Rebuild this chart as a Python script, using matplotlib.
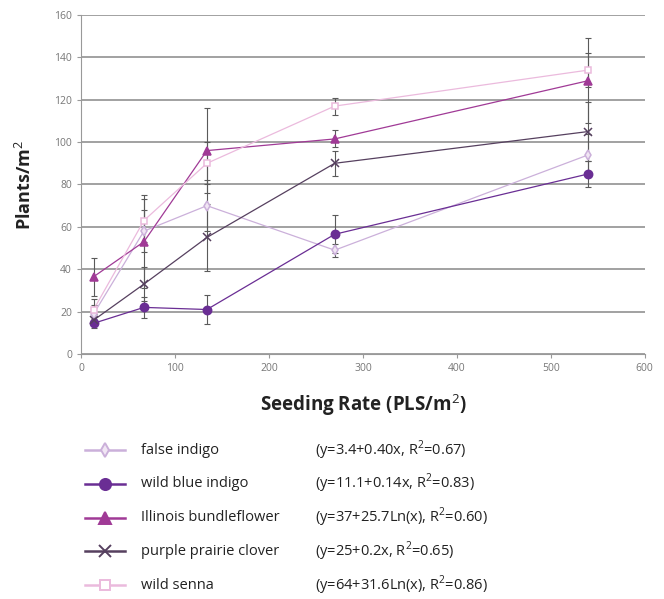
import numpy as np
import matplotlib
matplotlib.use("Agg")
import matplotlib.pyplot as plt
from matplotlib.lines import Line2D

plt.rcParams["font.family"] = ["Open Sans", "DejaVu Sans"]
plt.rcParams["mathtext.fontset"] = "custom"
plt.rcParams["mathtext.rm"] = "Open Sans"
plt.rcParams["mathtext.bf"] = "Open Sans:bold"

# seeding rates (PLS/m2)
rates = [13.5, 67, 134, 270, 540]

species = ["false indigo", "wild blue indigo", "Illinois bundleflower",
           "purple prairie clover", "wild senna"]
equations = ["(y=3.4+0.40x, R$^{2}$=0.67)", "(y=11.1+0.14x, R$^{2}$=0.83)",
             "(y=37+25.7Ln(x), R$^{2}$=0.60)", "(y=25+0.2x, R$^{2}$=0.65)",
             "(y=64+31.6Ln(x), R$^{2}$=0.86)"]

false_indigo = [19, 58, 70, 49, 94]
wild_blue_indigo = [14.5, 22, 21, 56.5, 85]
illinois = [36.5, 53, 96, 101.5, 129]
prairie_clover = [16, 33, 55, 90, 105]
wild_senna = [21, 63, 90, 117, 134]

false_indigo_err = [4, 10, 12, 3, 10]
wild_blue_indigo_err = [2, 5, 7, 9, 6]
illinois_err = [9, 22, 20, 4, 20]
prairie_clover_err = [3, 8, 16, 6, 14]
wild_senna_err = [5, 10, 10, 4, 8]

series = [false_indigo, wild_blue_indigo, illinois, prairie_clover, wild_senna]
errors = [false_indigo_err, wild_blue_indigo_err, illinois_err,
          prairie_clover_err, wild_senna_err]
colors = ["#cbb0da", "#6a2e94", "#a03a96", "#56405f", "#ebbadd"]
markers = ["d", "o", "^", "x", "s"]
mfaces = ["#f1e6f4", "#6a2e94", "#a03a96", "#56405f", "#ffffff"]
msizes = [5, 6, 6, 6, 5]

fig = plt.figure(figsize=(6.64, 5.99), dpi=100)
ax = fig.add_axes([0.122, 0.409, 0.849, 0.566])

for ys, es, c, m, mf, ms in zip(series, errors, colors, markers, mfaces, msizes):
    ax.errorbar(rates, ys, yerr=es, fmt="none", ecolor="#5a5a5a",
                elinewidth=0.8, capsize=2.5, capthick=0.8, zorder=2)
    ax.plot(rates, ys, color=c, lw=0.9, marker=m, ms=ms, mfc=mf, mec=c,
            mew=1.1, zorder=3)

ax.set_xlim(0, 600)
ax.set_ylim(0, 160)
ax.set_xticks(range(0, 601, 100))
ax.set_yticks(range(0, 161, 20))
ax.grid(axis="y", color="#9a9a9a", lw=1.3)
ax.set_axisbelow(True)
for s in ["top", "right"]:
    ax.spines[s].set_visible(False)
for s in ["left", "bottom"]:
    ax.spines[s].set_color("#999999")
ax.tick_params(colors="#999999", labelcolor="#777777", labelsize=7.5,
               length=3)

ax.set_xlabel("Seeding Rate (PLS/m$^{2}$)", fontsize=13.5, fontweight="bold",
              color="#222222", labelpad=13)
ax.set_ylabel("Plants/m$^{2}$", fontsize=13, fontweight="bold",
              color="#222222", labelpad=14)

# legend rows drawn by hand so the equations line up
y0 = 1 - 450 / 599
step = 33.8 / 599
for i, (name, eq, c, m, mf, ms) in enumerate(zip(species, equations, colors,
                                                 markers, mfaces, msizes)):
    y = y0 - i * step
    fig.add_artist(Line2D([0.128, 0.188], [y, y], color=c, lw=1.8,
                          transform=fig.transFigure))
    fig.add_artist(Line2D([0.158], [y], color=c, marker=m, ms=ms + 2,
                          mfc=mf, mec=c, mew=1.4, transform=fig.transFigure))
    fig.text(0.212, y, name, fontsize=10.5, va="center", color="#222222")
    fig.text(0.475, y, eq, fontsize=10.5, va="center", color="#222222")

fig.savefig("out.png", dpi=100, facecolor="white")
